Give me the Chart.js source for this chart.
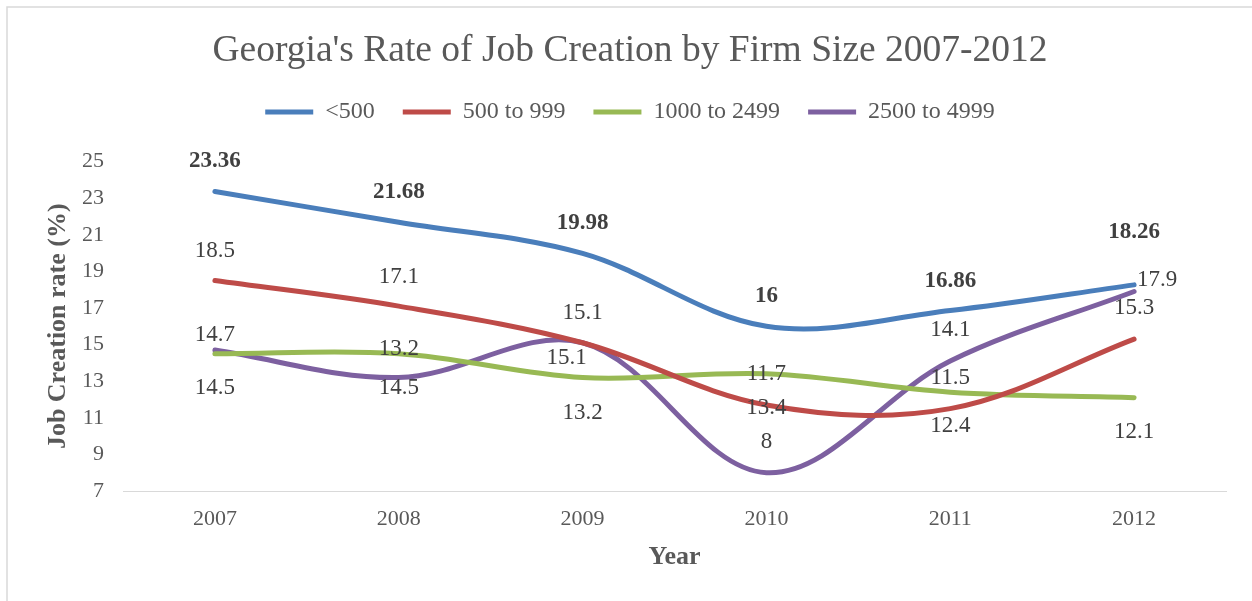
<!DOCTYPE html>
<html>
<head>
<meta charset="utf-8">
<title>Georgia's Rate of Job Creation by Firm Size 2007-2012</title>
<script src="https://cdn.jsdelivr.net/npm/chart.js@4.4.1/dist/chart.umd.min.js"></script>
<style>
  html, body { margin: 0; padding: 0; background: #fff; }
  #wrap { position: relative; width: 1252px; height: 601px; }
</style>
</head>
<body>
<div id="wrap"><canvas id="myChart"></canvas></div>
<script>
// data
const years = ["2007", "2008", "2009", "2010", "2011", "2012"];
const under500 = [23.36, 21.68, 19.98, 16, 16.86, 18.26];
const from500to999 = [18.5, 17.1, 15.1, 11.7, 11.5, 15.3];
const from1000to2499 = [14.5, 14.5, 13.2, 13.4, 12.4, 12.1];
const from2500to4999 = [14.7, 13.2, 15.1, 8, 14.1, 17.9];
const yTicks = [7, 9, 11, 13, 15, 17, 19, 21, 23, 25];

const colors = {
  blue: "#4A7EBB",
  red: "#BE4B48",
  green: "#98B954",
  purple: "#7D60A0",
  text: "#595959",
  label: "#404040",
  rule: "#D9D9D9"
};

// where each value label sits relative to its point, [dx, dy] in px
const labelOffsets = [
  [[0, -30], [0, -30], [0, -30], [0, -30], [0, -29], [0, -53]],
  [[0, -30], [0, -29], [0, -30], [0, -31], [0, -31], [0, -31]],
  [[0, 34], [0, 34], [0, 35], [0, 34], [0, 34], [0, 34]],
  [[0, -15], [0, -29], [-16, 15], [0, -31], [0, -31], [23, -12]]
];

const FONT = "'Liberation Serif', 'Times New Roman', serif";
Chart.defaults.font.family = FONT;

const frame = {
  id: "frame",
  beforeDraw(chart) {
    const ctx = chart.ctx;
    ctx.save();
    ctx.fillStyle = "#fff";
    ctx.fillRect(0, 0, chart.width, chart.height);
    ctx.strokeStyle = colors.rule;
    ctx.lineWidth = 1.5;
    ctx.strokeRect(7, 7, chart.width + 20, chart.height + 20);
    ctx.restore();
  }
};

const valueLabels = {
  id: "valueLabels",
  afterDatasetsDraw(chart) {
    const ctx = chart.ctx;
    chart.data.datasets.forEach((ds, i) => {
      const meta = chart.getDatasetMeta(i);
      ctx.save();
      ctx.font = (i === 0 ? "bold " : "") + "23px " + FONT;
      ctx.fillStyle = colors.label;
      ctx.textAlign = "center";
      ctx.textBaseline = "middle";
      meta.data.forEach((pt, j) => {
        const off = labelOffsets[i][j];
        ctx.fillText(String(ds.data[j]), pt.x + off[0], pt.y + off[1]);
      });
      ctx.restore();
    });
  }
};

const mkSeries = (label, data, color) => ({
  label: label,
  data: data,
  borderColor: color,
  backgroundColor: color,
  borderWidth: 5,
  borderCapStyle: "round",
  borderJoinStyle: "round",
  tension: 0.35,
  pointRadius: 0,
  fill: false
});

const data = {
  labels: years,
  datasets: [
    mkSeries("<500", under500, colors.blue),
    mkSeries("500 to 999", from500to999, colors.red),
    mkSeries("1000 to 2499", from1000to2499, colors.green),
    mkSeries("2500 to 4999", from2500to4999, colors.purple)
  ]
};

const config = {
  type: "line",
  data: data,
  plugins: [frame, valueLabels],
  options: {
    responsive: true,
    maintainAspectRatio: false,
    animation: false,
    layout: { padding: { left: 34, right: 26, top: 0, bottom: 0 } },
    plugins: {
      title: {
        display: true,
        text: "Georgia's Rate of Job Creation by Firm Size 2007-2012",
        color: colors.text,
        font: { size: 37.5, weight: "normal", lineHeight: 1.0 },
        padding: { top: 32, bottom: 2.5 }
      },
      legend: {
        display: true,
        labels: {
          usePointStyle: true,
          pointStyle: "line",
          pointStyleWidth: 48,
          color: colors.text,
          font: { size: 24 },
          padding: 28
        }
      },
      tooltip: { enabled: false }
    },
    scales: {
      x: {
        offset: true,
        grid: { display: false, drawTicks: false },
        border: { display: true, color: colors.rule, width: 1 },
        ticks: { color: colors.text, font: { size: 22 }, padding: 15 },
        title: {
          display: true,
          text: "Year",
          color: colors.text,
          font: { size: 26, weight: "bold" },
          padding: { top: 0, bottom: 28 }
        },
        afterFit(s) { s.height = 110; }
      },
      spacer: {
        type: "category",
        position: "top",
        grid: { display: false, drawTicks: false },
        border: { display: false },
        ticks: { display: false },
        afterFit(s) { s.height = 27.5; }
      },
      y: {
        min: 7,
        max: 25,
        grid: { display: false, drawTicks: false },
        border: { display: false },
        ticks: { color: colors.text, font: { size: 22 }, padding: 19 },
        afterBuildTicks(s) { s.ticks = yTicks.map(v => ({ value: v })); },
        title: {
          display: true,
          text: "Job Creation rate (%)",
          color: colors.text,
          font: { size: 26, weight: "bold" },
          padding: { top: 9, bottom: 0 }
        },
        afterFit(s) { s.width = 89; }
      }
    }
  }
};

const myLineChart = new Chart(document.getElementById("myChart"), config);
</script>
</body>
</html>
